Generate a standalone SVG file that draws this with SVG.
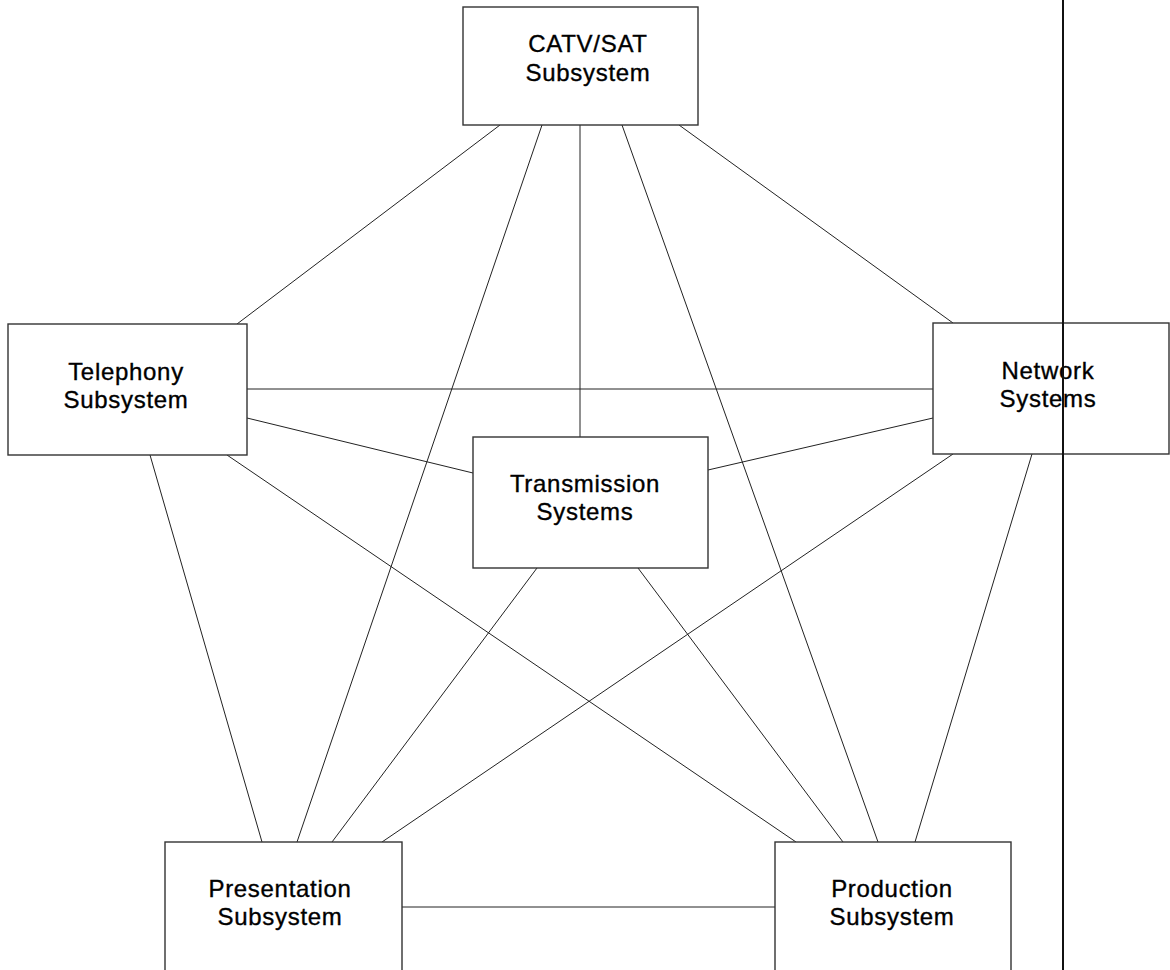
<svg xmlns="http://www.w3.org/2000/svg" width="1170" height="970" viewBox="0 0 1170 970">
<style>
.box{fill:#fff;stroke:#333;stroke-width:1.4}
.lbl{font-family:"Liberation Sans",Arial,sans-serif;font-size:24px;letter-spacing:0.7px;fill:#000;stroke:#000;stroke-width:0.35;text-anchor:middle}
.con line{stroke:#222;stroke-width:1}
</style>
<rect width="1170" height="970" fill="#fff"/>
<g id="connectors" class="con">
<line x1="500" y1="125" x2="237" y2="324"/>
<line x1="542" y1="125" x2="297" y2="842"/>
<line x1="580" y1="125" x2="580" y2="437"/>
<line x1="622" y1="125" x2="878" y2="842"/>
<line x1="679" y1="125" x2="953" y2="323"/>
<line x1="247" y1="389" x2="933" y2="389"/>
<line x1="247" y1="418" x2="473" y2="473"/>
<line x1="933" y1="418" x2="708" y2="470"/>
<line x1="150" y1="455" x2="262" y2="842"/>
<line x1="227" y1="455" x2="796" y2="842"/>
<line x1="537" y1="568" x2="332" y2="842"/>
<line x1="638" y1="568" x2="843" y2="842"/>
<line x1="953" y1="454" x2="382" y2="842"/>
<line x1="1032" y1="454" x2="915" y2="842"/>
<line x1="402" y1="907" x2="775" y2="907"/>
</g>
<g id="catv">
<rect class="box" x="463" y="7" width="235" height="118"/>
<text class="lbl" x="588" y="52">CATV/SAT</text>
<text class="lbl" x="588" y="81">Subsystem</text>
</g>
<g id="telephony">
<rect class="box" x="8" y="324" width="239" height="131"/>
<text class="lbl" x="126" y="380">Telephony</text>
<text class="lbl" x="126" y="408">Subsystem</text>
</g>
<g id="network">
<rect class="box" x="933" y="323" width="236" height="131"/>
<text class="lbl" x="1048" y="379">Network</text>
<text class="lbl" x="1048" y="407">Systems</text>
</g>
<g id="transmission">
<rect class="box" x="473" y="437" width="235" height="131"/>
<text class="lbl" x="585" y="492">Transmission</text>
<text class="lbl" x="585" y="520">Systems</text>
</g>
<g id="presentation">
<rect class="box" x="165" y="842" width="237" height="140"/>
<text class="lbl" x="280" y="897">Presentation</text>
<text class="lbl" x="280" y="925">Subsystem</text>
</g>
<g id="production">
<rect class="box" x="775" y="842" width="236" height="140"/>
<text class="lbl" x="892" y="897">Production</text>
<text class="lbl" x="892" y="925">Subsystem</text>
</g>
<line x1="1063" y1="0" x2="1063" y2="970" stroke="#111" stroke-width="2"/>
</svg>
